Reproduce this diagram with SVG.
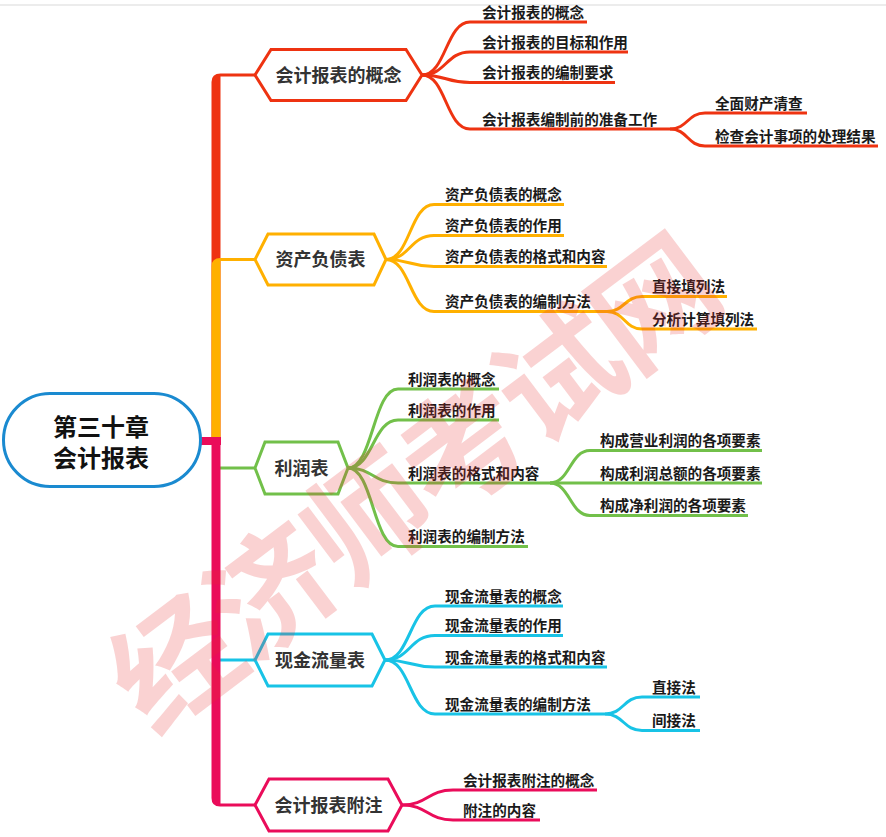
<svg xmlns="http://www.w3.org/2000/svg" width="886" height="837" viewBox="0 0 886 837">
<style>
.t0{font-family:"Noto Sans CJK SC","Microsoft YaHei",sans-serif;font-weight:bold;font-size:24px;fill:#111;text-anchor:middle}
.t1{font-family:"Noto Sans CJK SC","Microsoft YaHei",sans-serif;font-weight:bold;font-size:18px;fill:#333;text-anchor:middle}
.t2{font-family:"Noto Sans CJK SC","Microsoft YaHei",sans-serif;font-weight:bold;font-size:14.6px;fill:#1a1a1a}
.hex{fill:#fff;stroke-width:3;stroke-linejoin:miter}
.ln{fill:none;stroke-width:3}
.red{stroke:#ee3311}.redf{fill:#ee3311}
.org{stroke:#ffb000}.orgf{fill:#ffb000}
.grn{stroke:#72c04a}
.cyn{stroke:#18c3e6}
.mag{stroke:#ea0c5a}.magf{fill:#ea0c5a}
.wm{font-family:"Noto Sans CJK SC","Microsoft YaHei",sans-serif;font-weight:bold;font-size:124px;fill:#e83030;opacity:0.21}
</style>
<rect x="0" y="0" width="886" height="837" fill="#fff"/>
<rect x="0" y="4" width="886" height="2" fill="#ececec"/>

<g id="connectors">
  <path class="redf" d="M211.5,441 V82 Q211.5,73.5 220.5,73.5 H256 V76.5 H220.5 V441 Z"/>
  <path class="orgf" d="M211.5,441 V266.5 Q211.5,258 220.5,258 H256 V261 H220.5 V441 Z"/>
  <line class="ln grn" x1="216" y1="468" x2="256" y2="468"/>
  <line class="ln cyn" x1="216" y1="660" x2="256" y2="660"/>
  <rect class="magf" x="201" y="437" width="20" height="8"/>
  <path class="magf" d="M211.5,437 H220.5 V803.5 H256 V806.5 H220 Q211.5,806.5 211.5,798 Z"/>

  <path class="ln red" d="M422,75 C446,75 446,22 470,22 H587"/>
  <path class="ln red" d="M422,75 C446,75 446,52 470,52 H628"/>
  <path class="ln red" d="M422,75 C446,75 446,82.5 470,82.5 H615"/>
  <path class="ln red" d="M422,75 C446,75 446,129 470,129 H670"/>
  <path class="ln red" d="M670,129 C687.5,129 687.5,113 705,113 H807"/>
  <path class="ln red" d="M670,129 C687.5,129 687.5,146 705,146 H878"/>

  <path class="ln org" d="M386,259.5 C410,259.5 410,204.5 434,204.5 H564"/>
  <path class="ln org" d="M386,259.5 C410,259.5 410,235.5 434,235.5 H564"/>
  <path class="ln org" d="M386,259.5 C410,259.5 410,266.5 434,266.5 H607"/>
  <path class="ln org" d="M386,259.5 C410,259.5 410,311.5 434,311.5 H607"/>
  <path class="ln org" d="M607,311.5 C624.5,311.5 624.5,296.5 642,296.5 H727"/>
  <path class="ln org" d="M607,311.5 C624.5,311.5 624.5,329 642,329 H757"/>

  <path class="ln grn" d="M348,468 C373,468 373,389 398,389 H499"/>
  <path class="ln grn" d="M348,468 C373,468 373,420 398,420 H499"/>
  <path class="ln grn" d="M348,468 C373,468 373,483 398,483 H762"/>
  <path class="ln grn" d="M348,468 C373,468 373,546.5 398,546.5 H528"/>
  <path class="ln grn" d="M550,483 C570,483 570,450.5 590,450.5 H762"/>
  <path class="ln grn" d="M550,483 C570,483 570,515.5 590,515.5 H748"/>

  <path class="ln cyn" d="M385,660 C410,660 410,606 435,606 H563"/>
  <path class="ln cyn" d="M385,660 C410,660 410,635.5 435,635.5 H563"/>
  <path class="ln cyn" d="M385,660 C410,660 410,667 435,667 H607"/>
  <path class="ln cyn" d="M385,660 C410,660 410,714 435,714 H605"/>
  <path class="ln cyn" d="M605,714 C623.5,714 623.5,697 642,697 H700"/>
  <path class="ln cyn" d="M605,714 C623.5,714 623.5,730.5 642,730.5 H700"/>

  <path class="ln mag" d="M402,805 C427.5,805 427.5,790 453,790 H597"/>
  <path class="ln mag" d="M402,805 C427.5,805 427.5,820 453,820 H540"/>
</g>

<g id="root">
  <rect x="3.5" y="393.5" width="197" height="93" rx="46.5" fill="#fff" stroke="#1a8ad0" stroke-width="3"/>
  <text class="t0" x="101" y="436">第三十章</text>
  <text class="t0" x="101" y="467">会计报表</text>
</g>

<g id="n1">
  <polygon class="hex red" points="255,75 271,49.5 406,49.5 422,75 406,100.5 271,100.5"/>
  <text class="t1" x="338.5" y="81.5">会计报表的概念</text>
</g>
<g id="n1-1"><text class="t2" x="482" y="17.5">会计报表的概念</text></g>
<g id="n1-2"><text class="t2" x="482" y="47.5">会计报表的目标和作用</text></g>
<g id="n1-3"><text class="t2" x="482" y="78">会计报表的编制要求</text></g>
<g id="n1-4"><text class="t2" x="482" y="124.5">会计报表编制前的准备工作</text></g>
<g id="n1-4-1"><text class="t2" x="715" y="108.5">全面财产清查</text></g>
<g id="n1-4-2"><text class="t2" x="715" y="141.5">检查会计事项的处理结果</text></g>

<g id="n2">
  <polygon class="hex org" points="255,259.5 268,234 374,234 386,259.5 374,285 268,285"/>
  <text class="t1" x="320.5" y="266">资产负债表</text>
</g>
<g id="n2-1"><text class="t2" x="445" y="200">资产负债表的概念</text></g>
<g id="n2-2"><text class="t2" x="445" y="231">资产负债表的作用</text></g>
<g id="n2-3"><text class="t2" x="445" y="262">资产负债表的格式和内容</text></g>
<g id="n2-4"><text class="t2" x="445" y="307">资产负债表的编制方法</text></g>
<g id="n2-4-1"><text class="t2" x="652" y="292">直接填列法</text></g>
<g id="n2-4-2"><text class="t2" x="652" y="324.5">分析计算填列法</text></g>

<g id="n3">
  <polygon class="hex grn" points="255,468 265,442 338,442 348,468 338,494 265,494"/>
  <text class="t1" x="301.5" y="474.5">利润表</text>
</g>
<g id="n3-1"><text class="t2" x="408" y="384.5">利润表的概念</text></g>
<g id="n3-2"><text class="t2" x="408" y="415.5">利润表的作用</text></g>
<g id="n3-3"><text class="t2" x="408" y="478.5">利润表的格式和内容</text></g>
<g id="n3-3-1"><text class="t2" x="600" y="446">构成营业利润的各项要素</text></g>
<g id="n3-3-2"><text class="t2" x="600" y="478.5">构成利润总额的各项要素</text></g>
<g id="n3-3-3"><text class="t2" x="600" y="511">构成净利润的各项要素</text></g>
<g id="n3-4"><text class="t2" x="408" y="542">利润表的编制方法</text></g>

<g id="n4">
  <polygon class="hex cyn" points="255,660 268,634 372,634 385,660 372,686 268,686"/>
  <text class="t1" x="320" y="666.5">现金流量表</text>
</g>
<g id="n4-1"><text class="t2" x="445" y="601.5">现金流量表的概念</text></g>
<g id="n4-2"><text class="t2" x="445" y="631">现金流量表的作用</text></g>
<g id="n4-3"><text class="t2" x="445" y="662.5">现金流量表的格式和内容</text></g>
<g id="n4-4"><text class="t2" x="445" y="709.5">现金流量表的编制方法</text></g>
<g id="n4-4-1"><text class="t2" x="652" y="692.5">直接法</text></g>
<g id="n4-4-2"><text class="t2" x="652" y="726">间接法</text></g>

<g id="n5">
  <polygon class="hex mag" points="255,805 269,779 388,779 402,805 388,831 269,831"/>
  <text class="t1" x="328.5" y="811.5">会计报表附注</text>
</g>
<g id="n5-1"><text class="t2" x="463" y="785.5">会计报表附注的概念</text></g>
<g id="n5-2"><text class="t2" x="463" y="815.5">附注的内容</text></g>

<text class="wm" transform="translate(410,476) rotate(-37)" x="-362" y="0" dominant-baseline="central" letter-spacing="-4">经济师考试网</text>
</svg>
